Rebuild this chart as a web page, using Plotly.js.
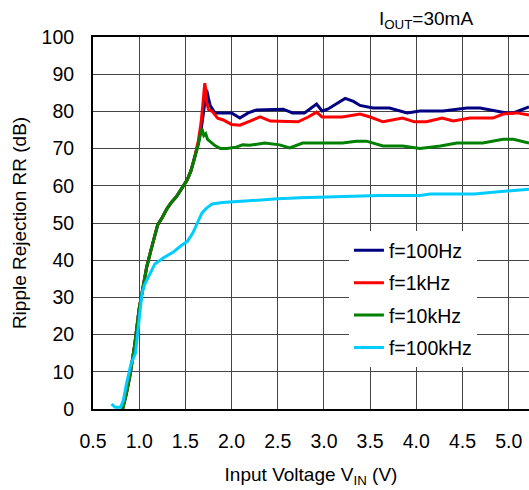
<!DOCTYPE html>
<html>
<head>
<meta charset="utf-8">
<script src="https://cdn.plot.ly/plotly-3.0.1.min.js"></script>
<style>html,body{margin:0;padding:0;background:#fff;}#chart{width:529px;height:490px;}</style>
</head>
<body>
<div id="chart"></div>
<script>
const seriesNames = ['f=100Hz', 'f=1kHz', 'f=10kHz', 'f=100kHz'];

const x100Hz = [0.82,0.86,0.90,0.95,1.00,1.04,1.08,1.12,1.16,1.20,1.25,1.30,1.35,1.40,1.44,1.48,1.52,1.56,1.60,1.64,1.67,1.70,1.73,1.75,1.77,1.82,1.91,2.00,2.09,2.18,2.27,2.47,2.56,2.66,2.79,2.92,2.98,3.04,3.23,3.32,3.39,3.53,3.71,3.90,4.04,4.29,4.55,4.69,4.98,5.05,5.22];
const y100Hz = [0,4,9,17,27,33,38,42,45.5,49.5,51.5,53.8,55.6,57,58.5,60,61.6,64,67.5,71.5,75,80,85.8,83.5,81.5,79.6,79.6,79.6,78.2,79.6,80.4,80.4,80.6,79.6,79.6,82,80.1,80.6,83.5,82.7,81.6,80.9,80.9,79.6,80.1,80.1,80.9,80.9,79.6,79.6,81.2];

const x1kHz = [0.82,0.86,0.90,0.95,1.00,1.04,1.08,1.12,1.16,1.20,1.25,1.30,1.35,1.40,1.44,1.48,1.52,1.56,1.60,1.64,1.67,1.69,1.71,1.72,1.73,1.75,1.79,1.85,1.91,2.00,2.09,2.20,2.31,2.42,2.63,2.72,2.83,2.92,2.98,3.20,3.39,3.50,3.64,3.85,3.98,4.11,4.28,4.40,4.58,4.83,4.94,5.09,5.22];
const y1kHz = [0,4,9,17,27,33,38,42,45.5,49.5,51.5,53.8,55.6,57,58.5,60,61.6,64,67.5,72,77,82,87.6,86,82.5,80.5,80,78.2,77.7,76.5,76.3,77.4,78.5,77.4,77.4,77.2,78.5,79.8,78.5,78.5,79.3,78.5,77.2,78.2,77.2,77.2,78.2,77.4,78.2,78.2,79.3,79.6,79];

const x10kHz = [0.82,0.86,0.90,0.95,1.00,1.04,1.08,1.12,1.16,1.20,1.25,1.30,1.35,1.40,1.44,1.48,1.52,1.56,1.60,1.64,1.66,1.68,1.70,1.72,1.74,1.77,1.82,1.88,1.95,2.05,2.12,2.20,2.36,2.52,2.63,2.77,3.00,3.20,3.35,3.46,3.64,3.85,4.04,4.26,4.44,4.72,4.94,5.05,5.22];
const y10kHz = [0,4,9,17,27,33,38,42,45.5,49.5,51.5,53.8,55.6,57,58.5,60,61.6,64,67.5,71,73.5,75.3,73.5,74,72.5,71.8,70.8,70,70,70.4,71,70.9,71.5,71,70.2,71.5,71.5,71.5,72,72,70.7,70.7,70,70.7,71.5,71.5,72.5,72.5,71.5];

const x100kHz = [0.70,0.74,0.80,0.83,0.86,0.88,0.91,0.96,0.98,1.00,1.03,1.06,1.10,1.17,1.26,1.37,1.46,1.52,1.58,1.64,1.68,1.73,1.79,1.90,2.00,2.10,2.20,2.36,2.50,2.74,3.00,3.34,3.60,4.04,4.15,4.40,4.63,4.80,5.00,5.22];
const y100kHz = [1.3,0.5,0.5,2.4,6.5,9,12,15,20,25,31,33.5,35.5,39,40.6,42.2,44,45,47.3,50.3,52.7,54,55.1,55.5,55.7,55.8,56,56.4,56.5,56.8,57,57.4,57.4,57.4,57.8,57.8,57.8,58.2,58.6,59.1];

const xTicks = [0.5,1.0,1.5,2.0,2.5,3.0,3.5,4.0,4.5,5.0];
const xTickLabels = ['0.5','1.0','1.5','2.0','2.5','3.0','3.5','4.0','4.5','5.0'];
const yTicks = [0,10,20,30,40,50,60,70,80,90,100];

const colors = ['#000080', '#FF0000', '#008000', '#00CCFF'];
const xs = [x100Hz, x1kHz, x10kHz, x100kHz];
const ys = [y100Hz, y1kHz, y10kHz, y100kHz];

const traces = seriesNames.map((n, i) => ({
  type: 'scatter', mode: 'lines', name: n,
  x: xs[i], y: ys[i], legendgroup: 'g' + i,
  line: {color: colors[i], width: 3}
}));

const font = 'Liberation Sans, Arial, sans-serif';
const layout = {
  width: 529, height: 490,
  margin: {l: 93, r: 0, t: 37, b: 81},
  paper_bgcolor: '#fff', plot_bgcolor: '#fff',
  font: {family: font, color: '#000', size: 19},
  showlegend: true,
  legend: {
    x: 0.587, y: 0.478, xanchor: 'left', yanchor: 'top',
    bgcolor: '#fff', borderwidth: 0,
    font: {family: font, size: 19.5, color: '#000'},
    tracegroupgap: 4, traceorder: 'grouped'
  },
  xaxis: {
    range: [0.5, 5.22], tickvals: xTicks, ticktext: xTickLabels,
    showgrid: true, gridcolor: '#444', gridwidth: 1,
    showline: true, linecolor: '#000', linewidth: 2, mirror: true,
    zeroline: false, ticks: '', ticklabelstandoff: 14,
    tickfont: {family: font, size: 19.5},
    title: {text: 'Input Voltage V<sub>IN</sub> (V)', font: {family: font, size: 19}, standoff: 16}
  },
  yaxis: {
    range: [0, 100], tickvals: yTicks,
    showgrid: true, gridcolor: '#444', gridwidth: 1,
    showline: true, linecolor: '#000', linewidth: 2,
    zeroline: false, ticks: '', ticklabelstandoff: 13,
    tickfont: {family: font, size: 19.5},
    title: {text: 'Ripple Rejection RR (dB)', font: {family: font, size: 19}, standoff: 10}
  },
  annotations: [{
    xref: 'paper', yref: 'paper', x: 0.652, y: 1.0, xanchor: 'left', yanchor: 'bottom',
    yshift: 3, showarrow: false,
    text: 'I<sub>OUT</sub>=30mA', font: {family: font, size: 19, color: '#000'}
  }]
};

Plotly.newPlot('chart', traces, layout, {displayModeBar: false, staticPlot: true});
</script>
</body>
</html>
